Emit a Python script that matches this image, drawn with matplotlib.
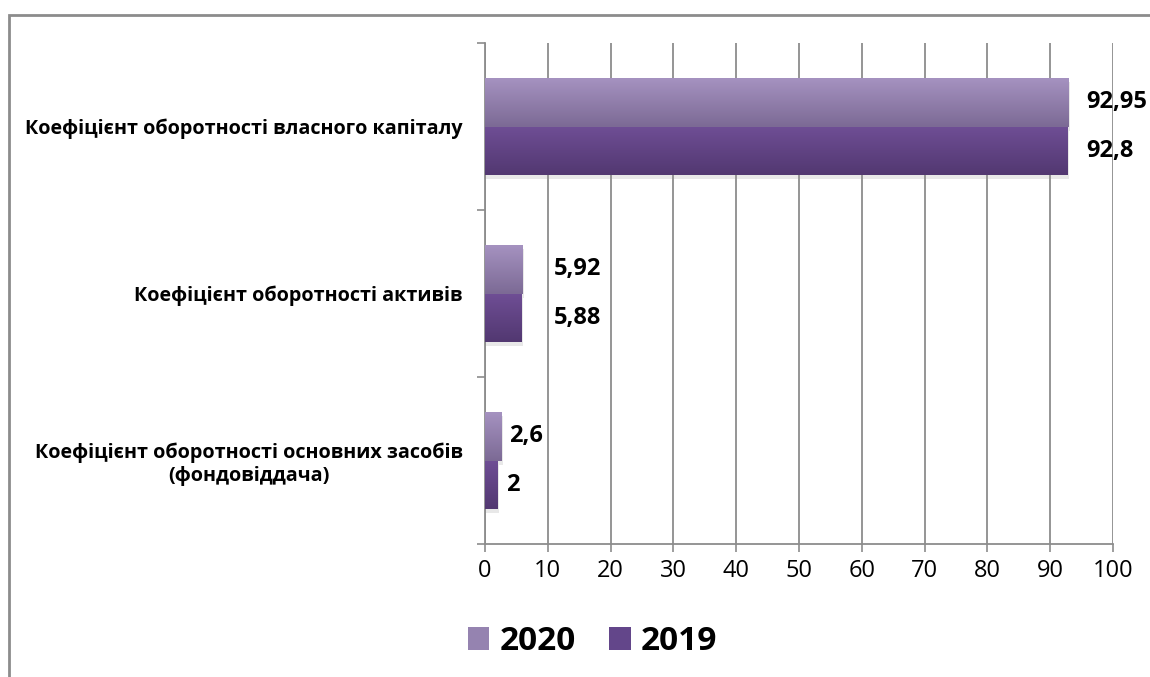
import numpy as np
import matplotlib
matplotlib.use("Agg")
import matplotlib.pyplot as plt
import matplotlib.patheffects as pe
from matplotlib.colors import LinearSegmentedColormap
from matplotlib.patches import Rectangle, Patch

plt.rcParams['font.family'] = ['Open Sans', 'DejaVu Sans']

categories = [
    'Коефіцієнт оборотності власного капіталу',
    'Коефіцієнт оборотності активів',
    'Коефіцієнт оборотності основних засобів\n(фондовіддача)',
]
years = ['2020', '2019']
values_2020 = [92.95, 5.92, 2.6]
values_2019 = [92.8, 5.88, 2]
labels_2020 = ['92,95', '5,92', '2,6']
labels_2019 = ['92,8', '5,88', '2']
xticks = [0, 10, 20, 30, 40, 50, 60, 70, 80, 90, 100]

# gradient colours (top, bottom) for each series
grad_2020 = ('#a592c0', '#7c6a95')
grad_2019 = ('#6f4e95', '#523871')
legend_colors = ['#9583b0', '#63468a']
label_offsets = [18, 32, 8]  # px gap between bar end and its label


def gradient_fill(ax, bars, colors):
    cmap = LinearSegmentedColormap.from_list('g', list(colors))
    grad = np.linspace(0, 1, 64).reshape(-1, 1)
    for b in bars:
        x0, y0 = b.get_x(), b.get_y()
        w, h = b.get_width(), b.get_height()
        # y axis is inverted, so y0 is the top edge
        im = ax.imshow(grad, cmap=cmap, aspect='auto', zorder=3,
                       extent=(x0, x0 + w, y0 + h, y0), interpolation='bicubic')
        im.set_clip_path(b)


fig = plt.figure(figsize=(11.5, 6.77), dpi=100)
ax = fig.add_axes([485 / 1150, 1 - 544 / 677, 628 / 1150, 501 / 677])

y = np.arange(len(categories))
h = 0.29
shadow = [pe.SimplePatchShadow(offset=(1, -3), shadow_rgbFace='#999999', alpha=0.22), pe.Normal()]
bars20 = ax.barh(y - h / 2, values_2020, height=h, color=grad_2020[1], zorder=2, path_effects=shadow)
bars19 = ax.barh(y + h / 2, values_2019, height=h, color=grad_2019[1], zorder=2, path_effects=shadow)
gradient_fill(ax, bars20, grad_2020)
gradient_fill(ax, bars19, grad_2019)

for i in range(len(categories)):
    ax.annotate(labels_2020[i], (values_2020[i], y[i] - h / 2), xytext=(label_offsets[i] * 0.72, 0),
                textcoords='offset points', va='center', ha='left', fontsize=17, fontweight='bold')
    ax.annotate(labels_2019[i], (values_2019[i], y[i] + h / 2), xytext=(label_offsets[i] * 0.72, 0),
                textcoords='offset points', va='center', ha='left', fontsize=17, fontweight='bold')

ax.set_xlim(0, 100)
ax.set_ylim(len(categories) - 0.5, -0.5)
ax.set_xticks(xticks)
ax.set_xticklabels([str(t) for t in xticks], fontsize=17)
ax.set_yticks(y)
ax.set_yticklabels(categories, fontsize=14.2, fontweight='bold', ha='right', multialignment='center')
ax.set_yticks(np.arange(len(categories) + 1) - 0.5, minor=True)
ax.tick_params(axis='y', which='major', length=0, pad=16)
ax.tick_params(axis='y', which='minor', length=6, color='#8c8c8c', width=1.2)
ax.tick_params(axis='x', length=6, color='#8c8c8c', width=1.2, pad=5)

ax.grid(axis='x', color='#8c8c8c', linewidth=1.3, zorder=0)
ax.set_axisbelow(True)
for s in ['top', 'right']:
    ax.spines[s].set_visible(False)
for s in ['left', 'bottom']:
    ax.spines[s].set_color('#8c8c8c')
    ax.spines[s].set_linewidth(1.3)

handles = [Patch(facecolor=c) for c in legend_colors]
fig.legend(handles, years, loc='center', bbox_to_anchor=(0.515, 0.052), ncol=2, frameon=False,
           prop={'size': 24, 'weight': 'bold'}, handlelength=0.65, handleheight=0.65,
           handletextpad=0.3, columnspacing=1.0)

# chart area border, runs off the right and bottom of the picture
fig.patches.append(Rectangle((9 / 1150, -0.05), 1.1, 1 - 15 / 677 + 0.05, transform=fig.transFigure,
                             fill=False, edgecolor='#8c8c8c', linewidth=2, zorder=0))

fig.savefig('out.png', dpi=100)
